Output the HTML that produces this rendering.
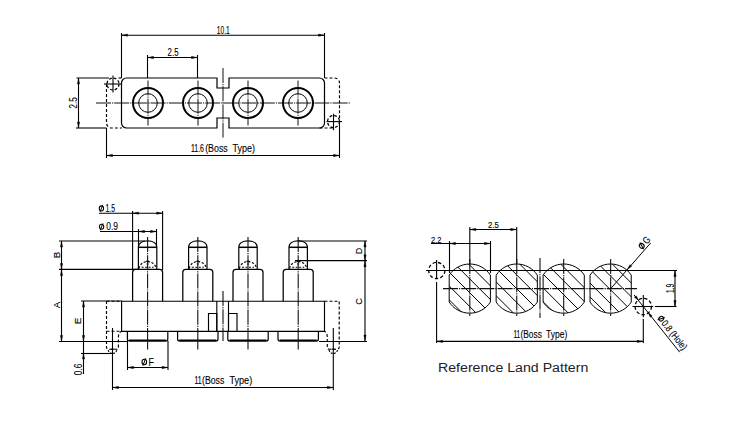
<!DOCTYPE html>
<html><head><meta charset="utf-8"><style>
html,body{margin:0;padding:0;background:#fff;}
svg{display:block;}
</style></head><body>
<svg width="741" height="422" viewBox="0 0 741 422">
<rect width="741" height="422" fill="#fff"/>
<line x1="121.5" y1="33" x2="121.5" y2="78" stroke="#000" stroke-width="1.1"/>
<line x1="324.5" y1="33" x2="324.5" y2="78" stroke="#000" stroke-width="1.1"/>
<line x1="121.5" y1="35.2" x2="324.5" y2="35.2" stroke="#000" stroke-width="1.1"/>
<path d="M122.00,35.20 L127.50,34.05 L127.50,36.35 Z" fill="#000" stroke="#000" stroke-width="0.4"/>
<path d="M324.00,35.20 L318.50,36.35 L318.50,34.05 Z" fill="#000" stroke="#000" stroke-width="0.4"/>
<text x="216.8" y="33.9" font-size="10.8" font-family="Liberation Sans" fill="#000" stroke="#000" stroke-width="0.12" text-anchor="start" textLength="12.9" lengthAdjust="spacingAndGlyphs">10.1</text>
<line x1="147.5" y1="55" x2="147.5" y2="78" stroke="#000" stroke-width="1.1"/>
<line x1="197.5" y1="55" x2="197.5" y2="78" stroke="#000" stroke-width="1.1"/>
<line x1="147.5" y1="57.5" x2="197.5" y2="57.5" stroke="#000" stroke-width="1.1"/>
<path d="M148.00,57.50 L153.50,56.35 L153.50,58.65 Z" fill="#000" stroke="#000" stroke-width="0.4"/>
<path d="M197.00,57.50 L191.50,58.65 L191.50,56.35 Z" fill="#000" stroke="#000" stroke-width="0.4"/>
<text x="167.6" y="55.9" font-size="10.6" font-family="Liberation Sans" fill="#000" stroke="#000" stroke-width="0.12" text-anchor="start" textLength="10.9" lengthAdjust="spacingAndGlyphs">2.5</text>
<path d="M126.5,78 H217 V88 H229 V78 H319.5 A5,5 0 0 1 324.5,83 V123 A5,5 0 0 1 319.5,128 H229 V118 H217 V128 H126.5 A5,5 0 0 1 121.5,123 V83 A5,5 0 0 1 126.5,78 Z" stroke="#000" stroke-width="1.2" fill="none"/>
<circle cx="148" cy="103" r="15" stroke="#000" stroke-width="2" fill="none"/>
<circle cx="148" cy="103" r="9.3" stroke="#000" stroke-width="1" fill="none"/>
<line x1="148" y1="80.5" x2="148" y2="125.5" stroke="#111" stroke-width="1" stroke-dasharray="15,1,1.2,1"/>
<circle cx="198" cy="103" r="15" stroke="#000" stroke-width="2" fill="none"/>
<circle cx="198" cy="103" r="9.3" stroke="#000" stroke-width="1" fill="none"/>
<line x1="198" y1="80.5" x2="198" y2="125.5" stroke="#111" stroke-width="1" stroke-dasharray="15,1,1.2,1"/>
<circle cx="248" cy="103" r="15" stroke="#000" stroke-width="2" fill="none"/>
<circle cx="248" cy="103" r="9.3" stroke="#000" stroke-width="1" fill="none"/>
<line x1="248" y1="80.5" x2="248" y2="125.5" stroke="#111" stroke-width="1" stroke-dasharray="15,1,1.2,1"/>
<circle cx="298" cy="103" r="15" stroke="#000" stroke-width="2" fill="none"/>
<circle cx="298" cy="103" r="9.3" stroke="#000" stroke-width="1" fill="none"/>
<line x1="298" y1="80.5" x2="298" y2="125.5" stroke="#111" stroke-width="1" stroke-dasharray="15,1,1.2,1"/>
<line x1="96" y1="103" x2="350" y2="103" stroke="#111" stroke-width="1" stroke-dasharray="15,1,1.2,1"/>
<line x1="223" y1="68" x2="223" y2="138" stroke="#111" stroke-width="1" stroke-dasharray="15,1,1.2,1"/>
<path d="M106.5,84 V123 A5,5 0 0 0 111.5,128 H122" stroke="#000" stroke-width="1.15" fill="none" stroke-dasharray="3,2"/>
<circle cx="113" cy="84" r="6" stroke="#000" stroke-width="1.25" fill="none" stroke-dasharray="2.8,1.9"/>
<line x1="104" y1="84" x2="121.5" y2="84" stroke="#000" stroke-width="1.1"/>
<line x1="113" y1="75.5" x2="113" y2="92.5" stroke="#000" stroke-width="1.1"/>
<path d="M324.5,78 H334.5 A5,5 0 0 1 339.5,83 V122" stroke="#000" stroke-width="1.15" fill="none" stroke-dasharray="3,2"/>
<path d="M319.5,128 H333" stroke="#000" stroke-width="1.15" fill="none" stroke-dasharray="3,2"/>
<circle cx="333.5" cy="121.6" r="6" stroke="#000" stroke-width="1.25" fill="none" stroke-dasharray="2.8,1.9"/>
<line x1="326.5" y1="121.6" x2="342" y2="121.6" stroke="#000" stroke-width="1.1"/>
<line x1="333.5" y1="113.8" x2="333.5" y2="130.2" stroke="#000" stroke-width="1.1"/>
<line x1="76.5" y1="78" x2="109" y2="78" stroke="#000" stroke-width="1.1"/>
<line x1="118.5" y1="78" x2="121.5" y2="78" stroke="#000" stroke-width="1.1"/>
<line x1="76" y1="128" x2="106.5" y2="128" stroke="#000" stroke-width="1.1"/>
<line x1="78.5" y1="78" x2="78.5" y2="128" stroke="#000" stroke-width="1.1"/>
<path d="M78.50,78.50 L79.65,84.00 L77.35,84.00 Z" fill="#000" stroke="#000" stroke-width="0.4"/>
<path d="M78.50,127.50 L77.35,122.00 L79.65,122.00 Z" fill="#000" stroke="#000" stroke-width="0.4"/>
<text x="77.1" y="102.8" font-size="10.4" font-family="Liberation Sans" fill="#000" stroke="#000" stroke-width="0.12" text-anchor="middle" textLength="11.2" lengthAdjust="spacingAndGlyphs" transform="rotate(-90 77.1 102.8)">2.5</text>
<line x1="106.5" y1="128" x2="106.5" y2="158" stroke="#000" stroke-width="1.1"/>
<line x1="339.5" y1="122" x2="339.5" y2="158" stroke="#000" stroke-width="1.1"/>
<line x1="106.5" y1="155.5" x2="339.5" y2="155.5" stroke="#000" stroke-width="1.1"/>
<path d="M107.00,155.50 L112.50,154.35 L112.50,156.65 Z" fill="#000" stroke="#000" stroke-width="0.4"/>
<path d="M339.00,155.50 L333.50,156.65 L333.50,154.35 Z" fill="#000" stroke="#000" stroke-width="0.4"/>
<text x="190.89999999999998" y="152" font-size="10.1" font-family="Liberation Sans" fill="#000" stroke="#000" stroke-width="0.12" text-anchor="start" textLength="13.1" lengthAdjust="spacingAndGlyphs">11.6</text>
<text x="205.2" y="152" font-size="10.1" font-family="Liberation Sans" fill="#000" stroke="#000" stroke-width="0.12" text-anchor="start" textLength="22.5" lengthAdjust="spacingAndGlyphs">(Boss</text>
<text x="232.6" y="152" font-size="10.1" font-family="Liberation Sans" fill="#000" stroke="#000" stroke-width="0.12" text-anchor="start" textLength="22.4" lengthAdjust="spacingAndGlyphs">Type)</text>
<line x1="99" y1="213.2" x2="162.6" y2="213.2" stroke="#000" stroke-width="1.1"/>
<line x1="132.6" y1="211" x2="132.6" y2="270" stroke="#000" stroke-width="1.1"/>
<line x1="162.6" y1="211" x2="162.6" y2="270" stroke="#000" stroke-width="1.1"/>
<path d="M133.10,213.20 L138.60,212.05 L138.60,214.35 Z" fill="#000" stroke="#000" stroke-width="0.4"/>
<path d="M162.10,213.20 L156.60,214.35 L156.60,212.05 Z" fill="#000" stroke="#000" stroke-width="0.4"/>
<g><ellipse cx="101.4" cy="208.4" rx="2.16" ry="2.52" fill="none" stroke="#000" stroke-width="1.05"/><line x1="100.08" y1="211.88" x2="102.72" y2="204.92" stroke="#000" stroke-width="1"/></g>
<text x="105.5" y="211.6" font-size="10" font-family="Liberation Sans" fill="#000" stroke="#000" stroke-width="0.12" text-anchor="start" textLength="9.6" lengthAdjust="spacingAndGlyphs">1.5</text>
<line x1="100" y1="231.5" x2="157" y2="231.5" stroke="#000" stroke-width="1.1"/>
<line x1="138.5" y1="229" x2="138.5" y2="247" stroke="#000" stroke-width="1.1"/>
<line x1="156.5" y1="229" x2="156.5" y2="247" stroke="#000" stroke-width="1.1"/>
<path d="M139.00,231.50 L144.50,230.35 L144.50,232.65 Z" fill="#000" stroke="#000" stroke-width="0.4"/>
<path d="M156.00,231.50 L150.50,232.65 L150.50,230.35 Z" fill="#000" stroke="#000" stroke-width="0.4"/>
<g><ellipse cx="101.6" cy="226.8" rx="2.16" ry="2.52" fill="none" stroke="#000" stroke-width="1.05"/><line x1="100.28" y1="230.28" x2="102.92" y2="223.32" stroke="#000" stroke-width="1"/></g>
<text x="106.3" y="229.8" font-size="10" font-family="Liberation Sans" fill="#000" stroke="#000" stroke-width="0.12" text-anchor="start" textLength="11.7" lengthAdjust="spacingAndGlyphs">0.9</text>
<line x1="59" y1="241" x2="145" y2="241" stroke="#000" stroke-width="1.1"/>
<line x1="59" y1="269.4" x2="138.4" y2="269.4" stroke="#000" stroke-width="1.3"/>
<line x1="61.5" y1="241" x2="61.5" y2="341.5" stroke="#000" stroke-width="1.1"/>
<path d="M61.50,241.50 L62.65,247.00 L60.35,247.00 Z" fill="#000" stroke="#000" stroke-width="0.4"/>
<path d="M61.50,269.00 L60.35,263.50 L62.65,263.50 Z" fill="#000" stroke="#000" stroke-width="0.4"/>
<path d="M61.50,270.00 L62.65,275.50 L60.35,275.50 Z" fill="#000" stroke="#000" stroke-width="0.4"/>
<path d="M61.50,341.00 L60.35,335.50 L62.65,335.50 Z" fill="#000" stroke="#000" stroke-width="0.4"/>
<text x="60" y="255" font-size="9.6" font-family="Liberation Sans" fill="#000" stroke="#000" stroke-width="0.12" text-anchor="middle" textLength="6.5" lengthAdjust="spacingAndGlyphs" transform="rotate(-90 60 255)">B</text>
<text x="60" y="305" font-size="9.6" font-family="Liberation Sans" fill="#000" stroke="#000" stroke-width="0.12" text-anchor="middle" textLength="6.5" lengthAdjust="spacingAndGlyphs" transform="rotate(-90 60 305)">A</text>
<path d="M138.4,269 V247.3 C138.4,243 142.6,240.9 147.6,240.9 C152.6,240.9 156.79999999999998,243 156.79999999999998,247.3 V269" stroke="#000" stroke-width="1.2" fill="none"/>
<line x1="138.4" y1="247.3" x2="156.79999999999998" y2="247.3" stroke="#000" stroke-width="1.5"/>
<path d="M139.0,268.6 C140.0,263.8 143.6,261.6 147.6,261.6 C151.6,261.6 155.2,263.8 156.2,268.6" stroke="#000" stroke-width="1.1" fill="none" stroke-dasharray="2.4,1.6"/>
<line x1="141.6" y1="267.3" x2="153.6" y2="267.3" stroke="#000" stroke-width="1.1" stroke-dasharray="2,1.5"/>
<line x1="146.1" y1="261.2" x2="149.1" y2="261.2" stroke="#000" stroke-width="1.2"/>
<line x1="146.6" y1="264" x2="148.6" y2="264" stroke="#000" stroke-width="1"/>
<path d="M132.6,301.2 V272.4 A3,3 0 0 1 135.6,269.4 H159.6 A3,3 0 0 1 162.6,272.4 V301.2" stroke="#000" stroke-width="1.25" fill="none"/>
<path d="M127.39999999999999,331.3 V339 A2,2 0 0 0 129.4,341 H165.79999999999998 A2,2 0 0 0 167.79999999999998,339 V331.3" stroke="#000" stroke-width="1.2" fill="none"/>
<line x1="129.1" y1="340.5" x2="166.1" y2="340.5" stroke="#000" stroke-width="2.1"/>
<line x1="147.6" y1="237" x2="147.6" y2="331" stroke="#111" stroke-width="1.1" stroke-dasharray="15,1,1.2,1"/>
<line x1="147.6" y1="331" x2="147.6" y2="349.5" stroke="#111" stroke-width="1.1"/>
<path d="M188.60000000000002,269 V247.3 C188.60000000000002,243 192.8,240.9 197.8,240.9 C202.8,240.9 207.0,243 207.0,247.3 V269" stroke="#000" stroke-width="1.2" fill="none"/>
<line x1="188.60000000000002" y1="247.3" x2="207.0" y2="247.3" stroke="#000" stroke-width="1.5"/>
<path d="M189.20000000000002,268.6 C190.20000000000002,263.8 193.8,261.6 197.8,261.6 C201.8,261.6 205.4,263.8 206.4,268.6" stroke="#000" stroke-width="1.1" fill="none" stroke-dasharray="2.4,1.6"/>
<line x1="191.8" y1="267.3" x2="203.8" y2="267.3" stroke="#000" stroke-width="1.1" stroke-dasharray="2,1.5"/>
<line x1="196.3" y1="261.2" x2="199.3" y2="261.2" stroke="#000" stroke-width="1.2"/>
<line x1="196.8" y1="264" x2="198.8" y2="264" stroke="#000" stroke-width="1"/>
<path d="M182.8,301.2 V272.4 A3,3 0 0 1 185.8,269.4 H209.8 A3,3 0 0 1 212.8,272.4 V301.2" stroke="#000" stroke-width="1.25" fill="none"/>
<path d="M177.60000000000002,331.3 V339 A2,2 0 0 0 179.60000000000002,341 H216.0 A2,2 0 0 0 218.0,339 V331.3" stroke="#000" stroke-width="1.2" fill="none"/>
<line x1="179.3" y1="340.5" x2="216.3" y2="340.5" stroke="#000" stroke-width="2.1"/>
<line x1="197.8" y1="237" x2="197.8" y2="331" stroke="#111" stroke-width="1.1" stroke-dasharray="15,1,1.2,1"/>
<line x1="197.8" y1="331" x2="197.8" y2="349.5" stroke="#111" stroke-width="1.1"/>
<path d="M238.8,269 V247.3 C238.8,243 243.0,240.9 248.0,240.9 C253.0,240.9 257.2,243 257.2,247.3 V269" stroke="#000" stroke-width="1.2" fill="none"/>
<line x1="238.8" y1="247.3" x2="257.2" y2="247.3" stroke="#000" stroke-width="1.5"/>
<path d="M239.4,268.6 C240.4,263.8 244.0,261.6 248.0,261.6 C252.0,261.6 255.6,263.8 256.6,268.6" stroke="#000" stroke-width="1.1" fill="none" stroke-dasharray="2.4,1.6"/>
<line x1="242.0" y1="267.3" x2="254.0" y2="267.3" stroke="#000" stroke-width="1.1" stroke-dasharray="2,1.5"/>
<line x1="246.5" y1="261.2" x2="249.5" y2="261.2" stroke="#000" stroke-width="1.2"/>
<line x1="247.0" y1="264" x2="249.0" y2="264" stroke="#000" stroke-width="1"/>
<path d="M233.0,301.2 V272.4 A3,3 0 0 1 236.0,269.4 H260.0 A3,3 0 0 1 263.0,272.4 V301.2" stroke="#000" stroke-width="1.25" fill="none"/>
<path d="M227.8,331.3 V339 A2,2 0 0 0 229.8,341 H266.2 A2,2 0 0 0 268.2,339 V331.3" stroke="#000" stroke-width="1.2" fill="none"/>
<line x1="229.5" y1="340.5" x2="266.5" y2="340.5" stroke="#000" stroke-width="2.1"/>
<line x1="248.0" y1="237" x2="248.0" y2="331" stroke="#111" stroke-width="1.1" stroke-dasharray="15,1,1.2,1"/>
<line x1="248.0" y1="331" x2="248.0" y2="349.5" stroke="#111" stroke-width="1.1"/>
<path d="M289.0,269 V247.3 C289.0,243 293.2,240.9 298.2,240.9 C303.2,240.9 307.4,243 307.4,247.3 V269" stroke="#000" stroke-width="1.2" fill="none"/>
<line x1="289.0" y1="247.3" x2="307.4" y2="247.3" stroke="#000" stroke-width="1.5"/>
<path d="M289.59999999999997,268.6 C290.59999999999997,263.8 294.2,261.6 298.2,261.6 C302.2,261.6 305.8,263.8 306.8,268.6" stroke="#000" stroke-width="1.1" fill="none" stroke-dasharray="2.4,1.6"/>
<line x1="292.2" y1="267.3" x2="304.2" y2="267.3" stroke="#000" stroke-width="1.1" stroke-dasharray="2,1.5"/>
<line x1="296.7" y1="261.2" x2="299.7" y2="261.2" stroke="#000" stroke-width="1.2"/>
<line x1="297.2" y1="264" x2="299.2" y2="264" stroke="#000" stroke-width="1"/>
<path d="M283.2,301.2 V272.4 A3,3 0 0 1 286.2,269.4 H310.2 A3,3 0 0 1 313.2,272.4 V301.2" stroke="#000" stroke-width="1.25" fill="none"/>
<path d="M278.0,331.3 V339 A2,2 0 0 0 280.0,341 H316.4 A2,2 0 0 0 318.4,339 V331.3" stroke="#000" stroke-width="1.2" fill="none"/>
<line x1="279.7" y1="340.5" x2="316.7" y2="340.5" stroke="#000" stroke-width="2.1"/>
<line x1="298.2" y1="237" x2="298.2" y2="331" stroke="#111" stroke-width="1.1" stroke-dasharray="15,1,1.2,1"/>
<line x1="298.2" y1="331" x2="298.2" y2="349.5" stroke="#111" stroke-width="1.1"/>
<path d="M121.6,301.2 H324.5 V331.3 H121.6 Z" stroke="#000" stroke-width="1.15" fill="none"/>
<line x1="216.8" y1="301" x2="216.8" y2="331" stroke="#000" stroke-width="1.1"/>
<line x1="228.5" y1="301" x2="228.5" y2="331" stroke="#000" stroke-width="1.1"/>
<path d="M216.8,331 V313.5 H208.5 V331" stroke="#000" stroke-width="1.15" fill="none"/>
<path d="M228.5,331 V313.5 H237 V331" stroke="#000" stroke-width="1.15" fill="none"/>
<line x1="223" y1="291" x2="223" y2="341" stroke="#111" stroke-width="1.1" stroke-dasharray="15,1,1.2,1"/>
<path d="M106.5,301 V347 Q106.5,349.2 108.7,349.2 H116.2 Q118.4,349.2 118.4,347 V337 Q118.4,333 121.5,331.3" stroke="#000" stroke-width="1.15" fill="none" stroke-dasharray="3,2"/>
<line x1="106.5" y1="301.2" x2="121.5" y2="301.2" stroke="#000" stroke-width="1.1" stroke-dasharray="3,2"/>
<line x1="106.5" y1="331.3" x2="121.5" y2="331.3" stroke="#000" stroke-width="1.1" stroke-dasharray="3,2"/>
<path d="M108.2,350 A4.4,4.4 0 0 0 116.8,350" stroke="#000" stroke-width="1.15" fill="none" stroke-dasharray="2,1.2"/>
<line x1="110.5" y1="349.2" x2="114.5" y2="349.2" stroke="#000" stroke-width="1.1"/>
<line x1="112.5" y1="328" x2="112.5" y2="390" stroke="#000" stroke-width="1.1"/>
<path d="M324.5,301.2 H339.2 V347 Q339.2,349.2 337,349.2 H329.5 Q327.3,349.2 327.3,347 V337 Q327.3,333 324.5,331.3" stroke="#000" stroke-width="1.15" fill="none" stroke-dasharray="3,2"/>
<path d="M329,350 A4.4,4.4 0 0 0 337.6,350" stroke="#000" stroke-width="1.15" fill="none" stroke-dasharray="2,1.2"/>
<line x1="331.3" y1="349.2" x2="335.3" y2="349.2" stroke="#000" stroke-width="1.1"/>
<line x1="333.3" y1="328" x2="333.3" y2="390" stroke="#000" stroke-width="1.1"/>
<line x1="81" y1="301" x2="122" y2="301" stroke="#000" stroke-width="1.1"/>
<line x1="83.5" y1="301" x2="83.5" y2="374" stroke="#000" stroke-width="1.1"/>
<path d="M83.50,301.50 L84.65,307.00 L82.35,307.00 Z" fill="#000" stroke="#000" stroke-width="0.4"/>
<path d="M83.50,341.00 L82.35,335.50 L84.65,335.50 Z" fill="#000" stroke="#000" stroke-width="0.4"/>
<path d="M83.50,353.50 L84.65,359.00 L82.35,359.00 Z" fill="#000" stroke="#000" stroke-width="0.4"/>
<text x="81" y="321" font-size="9.6" font-family="Liberation Sans" fill="#000" stroke="#000" stroke-width="0.12" text-anchor="middle" textLength="6.5" lengthAdjust="spacingAndGlyphs" transform="rotate(-90 81 321)">E</text>
<line x1="59" y1="341.5" x2="127.5" y2="341.5" stroke="#000" stroke-width="1.1"/>
<line x1="81" y1="353.5" x2="112" y2="353.5" stroke="#000" stroke-width="1.1"/>
<text x="82" y="369.5" font-size="10" font-family="Liberation Sans" fill="#000" stroke="#000" stroke-width="0.12" text-anchor="middle" textLength="11.5" lengthAdjust="spacingAndGlyphs" transform="rotate(-90 82 369.5)">0.6</text>
<line x1="127.5" y1="331" x2="127.5" y2="370" stroke="#000" stroke-width="1.1"/>
<line x1="168" y1="341" x2="168" y2="370" stroke="#000" stroke-width="1.1"/>
<line x1="127.5" y1="367.5" x2="168" y2="367.5" stroke="#000" stroke-width="1.1"/>
<path d="M128.00,367.50 L133.50,366.35 L133.50,368.65 Z" fill="#000" stroke="#000" stroke-width="0.4"/>
<path d="M167.50,367.50 L162.00,368.65 L162.00,366.35 Z" fill="#000" stroke="#000" stroke-width="0.4"/>
<g><ellipse cx="144.3" cy="362" rx="2.30" ry="2.69" fill="none" stroke="#000" stroke-width="1.05"/><line x1="142.89" y1="365.71" x2="145.71" y2="358.29" stroke="#000" stroke-width="1"/></g>
<text x="148.4" y="365.6" font-size="10.2" font-family="Liberation Sans" fill="#000" stroke="#000" stroke-width="0.12" text-anchor="start" textLength="5.4" lengthAdjust="spacingAndGlyphs">F</text>
<line x1="112.5" y1="387.5" x2="333.3" y2="387.5" stroke="#000" stroke-width="1.1"/>
<path d="M113.00,387.50 L118.50,386.35 L118.50,388.65 Z" fill="#000" stroke="#000" stroke-width="0.4"/>
<path d="M332.80,387.50 L327.30,388.65 L327.30,386.35 Z" fill="#000" stroke="#000" stroke-width="0.4"/>
<text x="194.39999999999998" y="383.8" font-size="10.1" font-family="Liberation Sans" fill="#000" stroke="#000" stroke-width="0.12" text-anchor="start" textLength="7.2" lengthAdjust="spacingAndGlyphs">11</text>
<text x="202.0" y="383.8" font-size="10.1" font-family="Liberation Sans" fill="#000" stroke="#000" stroke-width="0.12" text-anchor="start" textLength="22.3" lengthAdjust="spacingAndGlyphs">(Boss</text>
<text x="229.39999999999998" y="383.8" font-size="10.1" font-family="Liberation Sans" fill="#000" stroke="#000" stroke-width="0.12" text-anchor="start" textLength="22.8" lengthAdjust="spacingAndGlyphs">Type)</text>
<line x1="298" y1="241" x2="367" y2="241" stroke="#000" stroke-width="1.1"/>
<line x1="295" y1="260.7" x2="367" y2="260.7" stroke="#000" stroke-width="1.3"/>
<line x1="365" y1="241" x2="365" y2="341" stroke="#000" stroke-width="1.1"/>
<path d="M365.00,241.50 L366.15,247.00 L363.85,247.00 Z" fill="#000" stroke="#000" stroke-width="0.4"/>
<path d="M365.00,260.20 L363.85,254.70 L366.15,254.70 Z" fill="#000" stroke="#000" stroke-width="0.4"/>
<path d="M365.00,261.20 L366.15,266.70 L363.85,266.70 Z" fill="#000" stroke="#000" stroke-width="0.4"/>
<path d="M365.00,340.50 L363.85,335.00 L366.15,335.00 Z" fill="#000" stroke="#000" stroke-width="0.4"/>
<text x="362" y="251" font-size="9.6" font-family="Liberation Sans" fill="#000" stroke="#000" stroke-width="0.12" text-anchor="middle" textLength="6.5" lengthAdjust="spacingAndGlyphs" transform="rotate(-90 362 251)">D</text>
<text x="362" y="301.5" font-size="9.6" font-family="Liberation Sans" fill="#000" stroke="#000" stroke-width="0.12" text-anchor="middle" textLength="6.5" lengthAdjust="spacingAndGlyphs" transform="rotate(-90 362 301.5)">C</text>
<line x1="319" y1="341.5" x2="367" y2="341.5" stroke="#000" stroke-width="1.1"/>
<clipPath id="pad0"><path d="M449.2,275.15381094882275 A24.6,24.6 0 0 1 490.40000000000003,275.15381094882275 V302.0461890511773 A24.6,24.6 0 0 1 449.2,302.0461890511773 Z"/></clipPath>
<g clip-path="url(#pad0)"><path d="M344.2,250 L424.2,330 M358.0,250 L438.0,330 M371.8,250 L451.8,330 M385.6,250 L465.6,330 M399.4,250 L479.4,330 M413.2,250 L493.2,330 M427.0,250 L507.0,330 M440.8,250 L520.8,330 M454.6,250 L534.6,330 M468.4,250 L548.4,330 M482.2,250 L562.2,330 M496.0,250 L576.0,330 M509.8,250 L589.8,330" stroke="#000" stroke-width="1" fill="none"/></g>
<clipPath id="pad1"><path d="M496.15,275.15381094882275 A24.6,24.6 0 0 1 537.35,275.15381094882275 V302.0461890511773 A24.6,24.6 0 0 1 496.15,302.0461890511773 Z"/></clipPath>
<g clip-path="url(#pad1)"><path d="M395.2,250 L475.2,330 M409.0,250 L489.0,330 M422.8,250 L502.8,330 M436.6,250 L516.6,330 M450.4,250 L530.4,330 M464.2,250 L544.2,330 M478.0,250 L558.0,330 M491.8,250 L571.8,330 M505.6,250 L585.6,330 M519.4,250 L599.4,330 M533.2,250 L613.2,330 M547.0,250 L627.0,330 M560.8,250 L640.8,330" stroke="#000" stroke-width="1" fill="none"/></g>
<clipPath id="pad2"><path d="M543.1,275.15381094882275 A24.6,24.6 0 0 1 584.3000000000001,275.15381094882275 V302.0461890511773 A24.6,24.6 0 0 1 543.1,302.0461890511773 Z"/></clipPath>
<g clip-path="url(#pad2)"><path d="M436.2,250 L516.2,330 M450.0,250 L530.0,330 M463.8,250 L543.8,330 M477.6,250 L557.6,330 M491.4,250 L571.4,330 M505.2,250 L585.2,330 M519.0,250 L599.0,330 M532.8,250 L612.8,330 M546.6,250 L626.6,330 M560.4,250 L640.4,330 M574.2,250 L654.2,330 M588.0,250 L668.0,330 M601.8,250 L681.8,330" stroke="#000" stroke-width="1" fill="none"/></g>
<clipPath id="pad3"><path d="M590.0500000000001,275.15381094882275 A24.6,24.6 0 0 1 631.2500000000001,275.15381094882275 V302.0461890511773 A24.6,24.6 0 0 1 590.0500000000001,302.0461890511773 Z"/></clipPath>
<g clip-path="url(#pad3)"><path d="M487.9,250 L567.9,330 M501.7,250 L581.7,330 M515.5,250 L595.5,330 M529.3,250 L609.3,330 M543.0999999999999,250 L623.0999999999999,330 M556.9,250 L636.9,330 M570.7,250 L650.7,330 M584.5,250 L664.5,330 M598.3,250 L678.3,330 M612.1,250 L692.1,330 M625.9,250 L705.9,330 M639.7,250 L719.7,330 M653.5,250 L733.5,330" stroke="#000" stroke-width="1" fill="none"/></g>
<path d="M449.2,275.15381094882275 A24.6,24.6 0 0 1 490.40000000000003,275.15381094882275 V302.0461890511773 A24.6,24.6 0 0 1 449.2,302.0461890511773 Z" stroke="#000" stroke-width="1" fill="none"/>
<path d="M496.15,275.15381094882275 A24.6,24.6 0 0 1 537.35,275.15381094882275 V302.0461890511773 A24.6,24.6 0 0 1 496.15,302.0461890511773 Z" stroke="#000" stroke-width="1" fill="none"/>
<path d="M543.1,275.15381094882275 A24.6,24.6 0 0 1 584.3000000000001,275.15381094882275 V302.0461890511773 A24.6,24.6 0 0 1 543.1,302.0461890511773 Z" stroke="#000" stroke-width="1" fill="none"/>
<path d="M590.0500000000001,275.15381094882275 A24.6,24.6 0 0 1 631.2500000000001,275.15381094882275 V302.0461890511773 A24.6,24.6 0 0 1 590.0500000000001,302.0461890511773 Z" stroke="#000" stroke-width="1" fill="none"/>
<line x1="449.5" y1="241" x2="449.5" y2="273" stroke="#000" stroke-width="1.1"/>
<line x1="490.5" y1="241" x2="490.5" y2="273" stroke="#000" stroke-width="1.1"/>
<line x1="431" y1="243.5" x2="491" y2="243.5" stroke="#000" stroke-width="1.1"/>
<path d="M450.00,243.50 L455.50,242.35 L455.50,244.65 Z" fill="#000" stroke="#000" stroke-width="0.4"/>
<path d="M490.00,243.50 L484.50,244.65 L484.50,242.35 Z" fill="#000" stroke="#000" stroke-width="0.4"/>
<text x="431" y="243" font-size="9.6" font-family="Liberation Sans" fill="#000" stroke="#000" stroke-width="0.12" text-anchor="start" textLength="10.5" lengthAdjust="spacingAndGlyphs">2.2</text>
<line x1="469.8" y1="227" x2="469.8" y2="264" stroke="#000" stroke-width="1.1"/>
<line x1="516.7" y1="227" x2="516.7" y2="264" stroke="#000" stroke-width="1.1"/>
<line x1="469.8" y1="229.5" x2="516.7" y2="229.5" stroke="#000" stroke-width="1.1"/>
<path d="M470.30,229.50 L475.80,228.35 L475.80,230.65 Z" fill="#000" stroke="#000" stroke-width="0.4"/>
<path d="M516.20,229.50 L510.70,230.65 L510.70,228.35 Z" fill="#000" stroke="#000" stroke-width="0.4"/>
<text x="488" y="228" font-size="9.6" font-family="Liberation Sans" fill="#000" stroke="#000" stroke-width="0.12" text-anchor="start" textLength="11" lengthAdjust="spacingAndGlyphs">2.5</text>
<line x1="426" y1="270.5" x2="677" y2="270.5" stroke="#000" stroke-width="1.1"/>
<line x1="443" y1="288.6" x2="637" y2="288.6" stroke="#111" stroke-width="1.1" stroke-dasharray="15,1,1.2,1"/>
<line x1="469.8" y1="259" x2="469.8" y2="316" stroke="#111" stroke-width="1.1" stroke-dasharray="15,1,1.2,1"/>
<line x1="516.75" y1="259" x2="516.75" y2="316" stroke="#111" stroke-width="1.1" stroke-dasharray="15,1,1.2,1"/>
<line x1="563.7" y1="259" x2="563.7" y2="316" stroke="#111" stroke-width="1.1" stroke-dasharray="15,1,1.2,1"/>
<line x1="610.6500000000001" y1="259" x2="610.6500000000001" y2="316" stroke="#111" stroke-width="1.1" stroke-dasharray="15,1,1.2,1"/>
<line x1="540" y1="258" x2="540" y2="318" stroke="#111" stroke-width="1.1" stroke-dasharray="15,1,1.2,1"/>
<circle cx="436.8" cy="270.5" r="8.1" stroke="#000" stroke-width="1.3" fill="none" stroke-dasharray="3.4,2.2"/>
<line x1="436.6" y1="260" x2="436.6" y2="279" stroke="#000" stroke-width="1.1"/>
<line x1="436.6" y1="282" x2="436.6" y2="343" stroke="#000" stroke-width="1.1"/>
<line x1="436.6" y1="341.4" x2="643.3" y2="341.4" stroke="#000" stroke-width="1.1"/>
<path d="M437.10,341.40 L442.60,340.25 L442.60,342.55 Z" fill="#000" stroke="#000" stroke-width="0.4"/>
<path d="M642.80,341.40 L637.30,342.55 L637.30,340.25 Z" fill="#000" stroke="#000" stroke-width="0.4"/>
<text x="513.4000000000001" y="338.2" font-size="10.1" font-family="Liberation Sans" fill="#000" stroke="#000" stroke-width="0.12" text-anchor="start" textLength="6.7" lengthAdjust="spacingAndGlyphs">11</text>
<text x="520.5" y="338.2" font-size="10.1" font-family="Liberation Sans" fill="#000" stroke="#000" stroke-width="0.12" text-anchor="start" textLength="21.3" lengthAdjust="spacingAndGlyphs">(Boss</text>
<text x="546.0" y="338.2" font-size="10.1" font-family="Liberation Sans" fill="#000" stroke="#000" stroke-width="0.12" text-anchor="start" textLength="21.3" lengthAdjust="spacingAndGlyphs">Type)</text>
<circle cx="643.3" cy="306.5" r="8.2" stroke="#000" stroke-width="1.3" fill="none" stroke-dasharray="3.4,2.2"/>
<line x1="632.5" y1="306.5" x2="653.2" y2="306.5" stroke="#000" stroke-width="1.1"/>
<line x1="643.3" y1="295" x2="643.3" y2="317.3" stroke="#000" stroke-width="1.1"/>
<line x1="643.3" y1="319" x2="643.3" y2="343" stroke="#000" stroke-width="1.1"/>
<line x1="654.9" y1="306.5" x2="676.5" y2="306.5" stroke="#000" stroke-width="1.1"/>
<line x1="675" y1="270.5" x2="675" y2="306.5" stroke="#000" stroke-width="1.1"/>
<path d="M675.00,271.00 L676.15,276.50 L673.85,276.50 Z" fill="#000" stroke="#000" stroke-width="0.4"/>
<path d="M675.00,306.00 L673.85,300.50 L676.15,300.50 Z" fill="#000" stroke="#000" stroke-width="0.4"/>
<text x="674.2" y="288.3" font-size="10" font-family="Liberation Sans" fill="#000" stroke="#000" stroke-width="0.12" text-anchor="middle" textLength="9.2" lengthAdjust="spacingAndGlyphs" transform="rotate(-90 674.2 288.3)">1.9</text>
<line x1="610.7" y1="288.6" x2="650.6" y2="243" stroke="#000" stroke-width="1"/>
<path d="M627.50,269.20 L629.89,264.65 L631.70,266.23 Z" fill="#000" stroke="#000" stroke-width="0.4"/>
<g transform="rotate(-48.81 641.75 245.93)"><ellipse cx="641.75" cy="245.93" rx="2.23" ry="2.60" fill="none" stroke="#000" stroke-width="1.05"/><line x1="640.39" y1="249.53" x2="643.11" y2="242.33" stroke="#000" stroke-width="1"/></g>
<text x="647.13" y="244.79" font-size="10" font-family="Liberation Sans" fill="#000" stroke="#000" stroke-width="0.12" text-anchor="start" textLength="6.2" lengthAdjust="spacingAndGlyphs" transform="rotate(-48.81 647.13 244.79)">G</text>
<line x1="634.1" y1="295" x2="679.7" y2="352.2" stroke="#000" stroke-width="1"/>
<path d="M638.19,300.09 L634.45,297.32 L636.32,295.82 Z" fill="#000" stroke="#000" stroke-width="0.4"/>
<path d="M648.41,312.91 L652.15,315.68 L650.28,317.18 Z" fill="#000" stroke="#000" stroke-width="0.4"/>
<g transform="rotate(51.44 661.21 318.7)"><ellipse cx="661.21" cy="318.7" rx="2.16" ry="2.52" fill="none" stroke="#000" stroke-width="1.05"/><line x1="659.89" y1="322.18" x2="662.53" y2="315.22" stroke="#000" stroke-width="1"/></g>
<text x="660.95" y="323.51" font-size="9.8" font-family="Liberation Sans" fill="#000" stroke="#000" stroke-width="0.12" text-anchor="start" textLength="35" lengthAdjust="spacingAndGlyphs" transform="rotate(51.44 660.95 323.51)">0.8 (Hole)</text>
<text x="438" y="372.2" font-size="12.5" font-family="Liberation Sans" fill="#222" stroke="#222" stroke-width="0" text-anchor="start" textLength="150.3" lengthAdjust="spacingAndGlyphs">Reference Land Pattern</text>
</svg></body></html>
